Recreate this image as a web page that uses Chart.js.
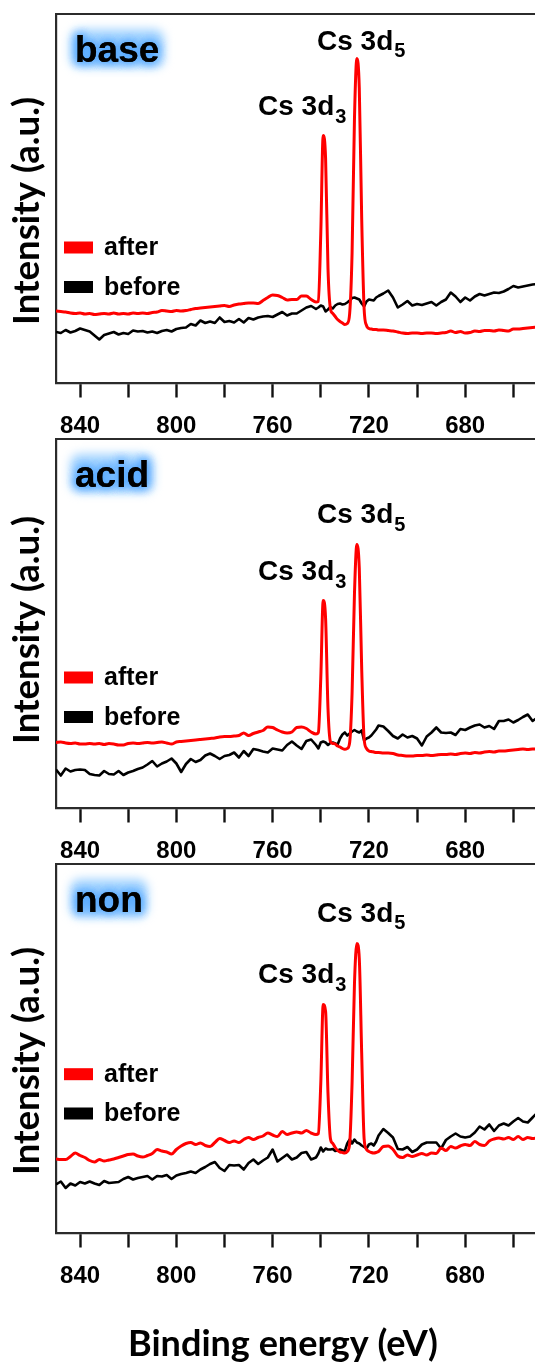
<!DOCTYPE html>
<html>
<head>
<meta charset="utf-8">
<script src="https://cdn.jsdelivr.net/npm/chart.js@4/dist/chart.umd.min.js"></script>
<style>
  html, body { margin: 0; padding: 0; background: #fff; overflow: hidden; }
  #wrap { position: relative; width: 535px; height: 1362px; }
  canvas { position: absolute; left: 0; display: block; }
</style>
</head>
<body>
<div id="wrap">
  <canvas id="c1" width="535" height="445" style="top:0"></canvas>
  <canvas id="c2" width="535" height="445" style="top:425px"></canvas>
  <canvas id="c3" width="535" height="512" style="top:850px"></canvas>
</div>
<script>
// Binding energy grid (eV), shared by all spectra
const energy = [
  850, 848, 846, 844, 842, 840, 838, 836, 834, 832,
  830, 828, 826, 824, 822, 820, 818, 816, 814, 812,
  810, 808, 806, 804, 802, 800, 798, 796, 794, 792,
  790, 788, 786, 784, 782, 780, 778, 776, 774, 772,
  770, 768, 766, 764, 762, 760, 758, 756, 754, 752,
  750, 748, 746, 744, 742,
  741, 740, 739, 738, 737, 736, 735, 734, 733, 732,
  731, 730, 729, 728, 727, 726, 725, 724, 723, 722,
  721, 720, 719, 718, 717,
  716, 714, 712, 710, 708, 706, 704, 702, 700, 698,
  696, 694, 692, 690, 688, 686, 684, 682, 680, 678,
  676, 674, 672, 670, 668, 666, 664, 662, 660, 658,
  656, 654, 652, 650
];

// base-treated sample
const baseAfter = [
  72.5, 72, 71.5, 70.5, 70, 70.5, 69.5, 70, 69, 69.5,
  70, 69.5, 70.5, 69.5, 70, 69.5, 70.5, 70, 70.5, 70,
  71, 71.5, 73, 72.5, 72, 73, 72.5, 73, 74, 75,
  75.5, 76, 76.5, 77, 77.5, 78, 77, 78.5, 79.5, 80,
  80.5, 80.5, 80, 83, 86, 88.5, 88, 86, 83.5, 84,
  84, 87.5, 87.5, 84, 81.5,
  82, 150, 248, 225, 115, 75, 70, 67, 64, 62,
  60.5, 59, 60, 70, 130, 265, 325, 295, 165, 75,
  58, 55, 54.5, 54, 54,
  53.5, 53.5, 53, 52.5, 51.5, 50.5, 50, 50.5, 50.5, 50,
  50.5, 50.5, 50, 50.5, 51, 52.5, 51, 52, 50.5, 51,
  52.5, 52, 53, 53, 52.5, 53.5, 53, 52.5, 54.5, 54.5,
  55, 55.5, 56, 56.5
];
const baseBefore = [
  51.5, 50.5, 53.5, 51, 52.5, 55, 53.5, 52, 48, 44,
  48.5, 50, 51.5, 49, 50.5, 49.5, 53, 52, 52.5, 51,
  52, 50.5, 52.5, 53.5, 52, 54.5, 55.5, 56, 59.5, 58,
  63, 60.5, 62, 60.5, 66, 61.5, 62.5, 61, 64.5, 61,
  65.5, 64, 66, 67, 67.5, 66.5, 69, 71.5, 68, 70,
  70, 73, 76, 77.5, 74.5,
  76, 78, 77, 72, 74, 76.5, 75, 78, 79.5, 80,
  79, 79.5, 81, 83, 85.5, 86, 85, 84, 80, 77,
  82, 84, 83.5, 83, 86,
  87.5, 90, 93, 86, 76, 79, 82.5, 78, 79.5, 78.5,
  80, 81.5, 78, 81.5, 84, 91, 87, 81.5, 86, 83,
  87, 89.5, 88, 89.5, 91, 90.5, 92, 94.5, 97.5, 96,
  97, 98, 99, 99.5
];

// acid-treated sample
const acidAfter = [
  66, 66.5, 65.5, 65, 65.5, 64.5, 64.5, 65, 64.5, 65,
  64, 65, 64.5, 63.5, 63.5, 65, 65.5, 65, 65.5, 66,
  65.5, 66, 66.5, 65.5, 64.5, 66.5, 67, 67.5, 68, 68.5,
  69, 69.5, 70, 70.5, 71.5, 72, 72, 72.5, 73, 75.5,
  73, 75, 76.5, 78, 81.5, 81, 78.5, 76.5, 75.5, 76.5,
  81, 81.5, 80, 76.5, 74.5,
  76, 130, 208, 190, 100, 67, 65, 64.5, 62.5, 61.5,
  60, 59.3, 60, 66, 115, 215, 264, 240, 140, 70,
  60, 57.5, 57, 56.5, 56,
  56, 55.5, 55.5, 55, 53.5, 53, 52.5, 52.5, 53, 53,
  53.5, 53, 53.5, 54, 54, 54.5, 54, 55, 55.5, 55,
  56, 55.5, 56.5, 57, 56.5, 57.5, 57.5, 58, 58.5, 59,
  59.5, 59, 59.5, 59.5
];
const acidBefore = [
  39, 33, 40, 37, 38.5, 39, 38.5, 34.5, 33.5, 33,
  37.5, 34.5, 34, 37.5, 33.5, 36, 37.5, 39.5, 41, 44,
  47.5, 42, 45, 47, 50, 45, 36.5, 44.5, 49.5, 46.5,
  48.5, 53, 55, 52.5, 49.5, 52.5, 53.5, 56, 51, 57.5,
  52.5, 59.5, 58.5, 57, 56, 60, 59, 58, 63.5, 67,
  63, 59.5, 67.5, 69, 63.5,
  60, 66, 67, 66, 63.5, 65.5, 66, 65, 64, 70,
  74, 76, 73, 75, 77, 78.5, 77, 76, 78, 68,
  70, 71, 73, 76, 79,
  83, 82, 77.5, 72.5, 70, 74, 71, 72.5, 70, 63,
  72, 76, 81, 76, 75.5, 76, 73.5, 79.5, 78.5, 81,
  83, 84, 81, 82.5, 79.5, 87.5, 87.5, 89, 86, 88.5,
  91.5, 94, 87.5, 91
];

// untreated sample
const nonAfter = [
  74.5, 74, 74, 77, 80.5, 78, 76, 73, 71.5, 74,
  72.5, 73.5, 74.5, 76, 77.5, 79, 79.5, 77.5, 76.5, 78,
  80, 84, 82.5, 81.5, 79.5, 84, 87.5, 90, 91, 89,
  90.5, 88, 87, 91, 95, 93, 91, 92.5, 91, 94,
  96, 94, 96, 97.5, 100.5, 98.5, 97, 102, 99, 100.5,
  101.5, 100.5, 103, 100.5, 99,
  100, 150, 229, 222, 140, 95, 90, 86, 83, 81.5,
  81, 80.5, 82, 90, 150, 250, 290, 275, 180, 95,
  84, 82, 81, 80.5, 81,
  82, 87, 87.5, 84, 77.5, 76, 78.5, 77, 78.5, 80,
  78.5, 80.5, 80, 85.5, 83, 87, 85.5, 87.5, 89, 88,
  92, 89, 88, 92.5, 94.5, 95.5, 94.5, 96, 94, 97,
  94, 96, 95, 95.5
];
const nonBefore = [
  49, 52, 45.5, 50, 48, 51.5, 50, 52, 50, 48.5,
  52.5, 50.5, 51, 51.5, 54.5, 56.5, 54, 55.5, 56.5, 57.5,
  54, 57.5, 57, 58.5, 54.5, 58, 59.5, 60.5, 62, 60.5,
  64, 66.5, 69.5, 71.5, 65.5, 62.5, 68.5, 68, 68.5, 64,
  70.5, 74, 69.5, 73, 76, 84, 72, 75.5, 79, 74,
  76, 80.5, 81.5, 74, 76,
  80, 86, 82, 85, 84, 84, 84.5, 82.5, 83, 84,
  83, 82.5, 90, 94, 90, 94, 91, 90, 88, 86.5,
  85, 89, 90, 88, 92,
  98, 104.5, 100.5, 96, 84.5, 84, 86.5, 81.5, 84, 89,
  91, 91, 91, 85, 93.5, 97, 100, 97, 96, 97,
  101, 107, 104, 109, 102.5, 108, 110, 108, 112, 115.5,
  112, 111, 116, 121
];

// Axis labels: ticks every 20 eV, numbers every 40 eV
const labelledTicks = [840, 800, 760, 720, 680];
const seriesNames = ['after', 'before'];
const seriesColors = ['#ff0000', '#000000'];
const peakNames = ['Cs 3d', 'Cs 3d'];
const peakSubs = ['5', '3'];

const SANS = '"Liberation Sans", Arial, sans-serif';
const TITLE = 'Lato, "Open Sans", sans-serif';
const AREA_TOP = 14;
const AREA_BOTTOM = 383.5;

const panels = [
  { id: 'c1', name: 'base', after: baseAfter, before: baseBefore,
    nameY: 62, d5Y: 49.5, d3Y: 115, afterY: 247.5, beforeY: 287, titleY: 211, xTitle: false },
  { id: 'c2', name: 'acid', after: acidAfter, before: acidBefore,
    nameY: 61.7, d5Y: 98.3, d3Y: 155, afterY: 252.5, beforeY: 292, titleY: 205, xTitle: false },
  { id: 'c3', name: 'non', after: nonAfter, before: nonBefore,
    nameY: 61.7, d5Y: 71.7, d3Y: 133.3, afterY: 224.2, beforeY: 263.5, titleY: 211, xTitle: true }
];

function fitSize(ctx, text, weight, family, width) {
  ctx.font = weight + ' 100px ' + family;
  return 100 * width / ctx.measureText(text).width;
}

// sample name with a soft light-blue halo
function drawGlowName(ctx, text, x, y) {
  ctx.save();
  ctx.font = 'bold 37px ' + SANS;
  ctx.textBaseline = 'alphabetic';
  ctx.textAlign = 'left';
  const w = ctx.measureText(text).width;
  ctx.filter = 'blur(5px)';
  ctx.fillStyle = 'rgba(160,210,255,0.95)';
  ctx.beginPath();
  ctx.roundRect(x - 5, y - 33, w + 10, 39, 10);
  ctx.fill();
  ctx.filter = 'none';
  ctx.fillStyle = '#000';
  ctx.shadowColor = 'rgba(80,165,255,0.9)';
  ctx.shadowBlur = 10;
  for (let i = 0; i < 3; i++) ctx.fillText(text, x, y);
  ctx.restore();
}

function drawPeakLabel(ctx, main, sub, x, y) {
  ctx.save();
  ctx.fillStyle = '#000';
  ctx.textBaseline = 'alphabetic';
  ctx.textAlign = 'left';
  ctx.font = 'bold 28px ' + SANS;
  ctx.fillText(main, x, y);
  const w = ctx.measureText(main).width;
  ctx.font = 'bold 20px ' + SANS;
  ctx.fillText(sub, x + w + 1, y + 7.5);
  ctx.restore();
}

const decorPlugin = {
  id: 'decor',
  afterDraw(chart, args, opts) {
    const p = opts.panel;
    const ctx = chart.ctx;
    const area = chart.chartArea;

    // top frame line
    ctx.save();
    ctx.strokeStyle = '#2b2b2b';
    ctx.lineWidth = 2.2;
    ctx.beginPath();
    ctx.moveTo(area.left - 1, area.top);
    ctx.lineTo(chart.width, area.top);
    ctx.stroke();
    ctx.restore();

    drawGlowName(ctx, p.name, 75, p.nameY);
    drawPeakLabel(ctx, peakNames[0], peakSubs[0], 317, p.d5Y);
    drawPeakLabel(ctx, peakNames[1], peakSubs[1], 258, p.d3Y);

    // legend
    ctx.save();
    ctx.font = 'bold 25px ' + SANS;
    ctx.textBaseline = 'middle';
    ctx.textAlign = 'left';
    [p.afterY, p.beforeY].forEach((cy, i) => {
      ctx.fillStyle = seriesColors[i];
      ctx.fillRect(64, cy - 6, 29, 12);
      ctx.fillStyle = '#000';
      ctx.fillText(seriesNames[i], 104, cy + 1);
    });
    ctx.restore();

    // y axis title
    ctx.save();
    const ys = fitSize(ctx, 'Intensity (a.u.)', 'bold', TITLE, 228);
    ctx.font = 'bold ' + ys + 'px ' + TITLE;
    ctx.fillStyle = '#000';
    ctx.textAlign = 'center';
    ctx.textBaseline = 'alphabetic';
    ctx.translate(38.5, p.titleY);
    ctx.rotate(-Math.PI / 2);
    ctx.fillText('Intensity (a.u.)', 0, 0);
    ctx.restore();

    if (p.xTitle) {
      ctx.save();
      const xs = fitSize(ctx, 'Binding energy (eV)', 'bold', TITLE, 310);
      ctx.font = 'bold ' + xs + 'px ' + TITLE;
      ctx.fillStyle = '#000';
      ctx.textAlign = 'center';
      ctx.textBaseline = 'alphabetic';
      ctx.fillText('Binding energy (eV)', 283, 506);
      ctx.restore();
    }
  }
};

function toPoints(values) {
  return energy.map((e, i) => ({ x: e, y: values[i] }));
}

panels.forEach(p => {
  const canvas = document.getElementById(p.id);
  const h = canvas.height;
  new Chart(canvas, {
    type: 'line',
    data: {
      datasets: [
        { label: seriesNames[0], data: toPoints(p.after), borderColor: seriesColors[0], borderWidth: 3,
          cubicInterpolationMode: 'monotone' },
        { label: seriesNames[1], data: toPoints(p.before), borderColor: seriesColors[1], borderWidth: 2.6 }
      ]
    },
    options: {
      responsive: false,
      animation: false,
      events: [],
      parsing: false,
      layout: { autoPadding: false, padding: { top: AREA_TOP, left: 0, right: 0, bottom: 0 } },
      elements: { point: { radius: 0 }, line: { tension: 0, fill: false, borderJoinStyle: 'round' } },
      plugins: { legend: { display: false }, tooltip: { enabled: false }, decor: { panel: p } },
      scales: {
        x: {
          type: 'linear',
          reverse: true,
          min: 651,
          max: 850,
          grid: { display: true, drawOnChartArea: false, drawTicks: true, tickLength: 14, tickWidth: 2.4, tickColor: '#111' },
          border: { display: true, color: '#2b2b2b', width: 2.2 },
          ticks: {
            stepSize: 20,
            includeBounds: false,
            autoSkip: false,
            maxRotation: 0,
            color: '#000',
            padding: 14,
            font: { family: SANS, size: 24, weight: 'bold' },
            callback: v => labelledTicks.includes(v) ? String(v) : ''
          },
          afterFit: s => { s.height = h - AREA_BOTTOM; }
        },
        y: {
          min: 0,
          max: 369.5,
          grid: { display: false, drawTicks: false },
          border: { display: true, color: '#2b2b2b', width: 2.2 },
          ticks: { display: false },
          afterFit: s => { s.width = 56; }
        }
      }
    },
    plugins: [decorPlugin]
  });
});
</script>
</body>
</html>
